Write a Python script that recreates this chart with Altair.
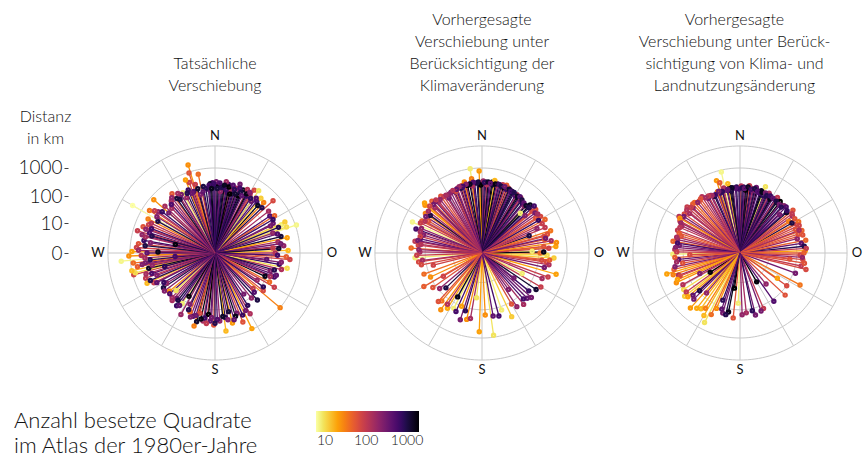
import math
import altair as alt
import pandas as pd

# Each spoke: (bearing in degrees clockwise from north, shift distance in km,
#              number of occupied atlas squares in the 1980s)
ACTUAL = [
    (0, 233, 800), (354, 183, 400), (7, 233, 1200), (11, 297, 600), (16, 183, 900),
    (20, 380, 300), (24, 274, 1500), (346, 132, 250), (341, 198, 500), (333, 155, 180),
    (29, 198, 700), (35, 168, 350), (3, 260, 1800), (5, 150, 200), (358, 300, 450),
    (350, 240, 1000), (13, 200, 140), (18, 250, 160), (22, 150, 2000), (27, 330, 120),
    (337, 260, 700), (344, 330, 90), (9, 350, 160), (1, 330, 300), (356, 280, 1300),
    (31, 250, 110), (39, 220, 600), (42, 180, 1400), (14, 140, 2000),
    (343, 1780, 25), (342, 930, 60), (340, 446, 80), (332, 253, 8), (348, 700, 40),
    (338, 600, 20),
    (32, 412, 70), (35, 485, 9), (44, 297, 30), (48, 570, 70), (56, 215, 500),
    (52, 250, 150), (46, 200, 900), (40, 330, 12), (58, 300, 45),
    (67, 350, 8), (71, 1094, 7), (70, 485, 10), (71, 143, 200), (84, 274, 200),
    (85, 112, 90), (90, 132, 120), (97, 68, 400), (108, 112, 250), (115, 88, 1500),
    (123, 58, 180), (133, 68, 90), (145, 58, 300), (130, 1000, 30), (128, 143, 70),
    (63, 200, 350), (76, 250, 1100), (80, 180, 160), (93, 330, 50), (100, 200, 700),
    (104, 260, 130), (112, 180, 600), (118, 150, 40), (66, 500, 12), (78, 400, 20),
    (88, 380, 15), (95, 450, 80), (102, 400, 10), (120, 260, 90), (138, 170, 1000),
    (154, 930, 20), (166, 350, 22), (181, 350, 60), (160, 183, 300), (167, 132, 1100),
    (176, 253, 200), (184, 253, 400), (190, 274, 150), (195, 322, 1200), (194, 155, 70),
    (206, 102, 250), (213, 132, 8), (220, 125, 300), (230, 125, 25), (236, 155, 1000),
    (238, 102, 200), (150, 300, 130), (158, 420, 60), (171, 200, 900), (187, 320, 100),
    (199, 230, 500), (203, 180, 40), (209, 300, 180), (216, 200, 700), (224, 150, 160),
    (244, 250, 90), (172, 600, 15), (196, 480, 30), (186, 150, 2000), (226, 80, 9),
    (211, 60, 1800),
    (255, 930, 80), (256, 790, 10), (265, 2100, 7), (271, 855, 20), (277, 525, 60),
    (284, 446, 200), (290, 500, 60), (297, 446, 30), (300, 2275, 6), (311, 728, 25),
    (303, 570, 35), (271, 102, 1500), (255, 68, 800), (249, 155, 250), (282, 26, 1700),
    (265, 25, 600), (311, 143, 300), (316, 155, 150), (327, 183, 1000), (250, 400, 100),
    (260, 600, 50), (262, 300, 300), (268, 400, 120), (274, 600, 80), (280, 350, 700),
    (287, 260, 500), (293, 350, 80), (306, 300, 200), (320, 250, 140), (324, 380, 55),
    (246, 420, 15), (258, 1000, 14), (268, 1100, 25), (263, 800, 40), (286, 700, 90),
    (2, 190, 1100), (4, 300, 500), (6, 210, 900), (8, 260, 1400), (10, 180, 700),
    (12, 240, 2000), (15, 300, 450), (17, 220, 800), (19, 160, 1200), (21, 280, 600),
    (23, 210, 1000), (25, 170, 400), (28, 230, 1600), (30, 290, 250), (33, 200, 800),
    (37, 260, 500), (352, 200, 900), (355, 250, 600), (357, 190, 1500), (359, 280, 700),
    (349, 160, 400), (345, 220, 1200), (339, 180, 350), (335, 210, 900), (330, 240, 300),
    (60, 230, 700), (64, 150, 300), (68, 260, 900), (73, 200, 500), (82, 220, 300),
    (86, 180, 1200), (92, 160, 600), (98, 230, 250), (106, 150, 900), (110, 200, 400),
    (113, 130, 150), (125, 120, 800), (135, 90, 500), (141, 110, 200),
    (148, 150, 800), (152, 200, 300), (156, 250, 700), (162, 220, 1500), (164, 280, 400),
    (169, 250, 250), (173, 180, 1300), (178, 220, 500), (180, 300, 900), (183, 190, 300),
    (189, 210, 700), (192, 240, 1600), (197, 200, 350), (201, 260, 250), (205, 160, 900),
    (214, 170, 400), (218, 130, 1000), (222, 180, 150), (228, 140, 500), (233, 170, 250),
    (240, 120, 700),
    (243, 200, 400), (247, 300, 900), (252, 220, 500), (253, 350, 150), (257, 250, 1300),
    (259, 180, 200), (261, 400, 250), (264, 200, 800), (266, 300, 150), (270, 250, 400),
    (272, 500, 180), (276, 300, 1000), (279, 200, 250), (283, 330, 150), (285, 200, 900),
    (289, 380, 200), (291, 250, 600), (295, 300, 120), (299, 200, 1000), (302, 260, 250),
    (305, 400, 90), (308, 230, 700), (313, 260, 150), (318, 200, 500), (322, 300, 200),
    (325, 220, 1100), (328, 300, 150),
]

CLIMATE = [
    (0, 297, 1500), (3, 322, 900), (6, 297, 600), (9, 274, 1200), (12, 322, 400),
    (15, 297, 250), (18, 274, 2000), (21, 253, 700), (24, 274, 300), (27, 233, 1000),
    (30, 215, 500), (33, 215, 1400), (36, 198, 350), (39, 183, 800), (42, 168, 200),
    (357, 322, 1100), (354, 297, 700), (351, 322, 300), (348, 274, 1800), (345, 297, 500),
    (342, 253, 900), (339, 274, 150), (336, 233, 600), (333, 253, 250), (1, 350, 180),
    (4, 260, 120), (8, 330, 2000), (13, 280, 160), (17, 330, 100), (22, 300, 80),
    (26, 260, 1300), (31, 250, 130), (35, 240, 90), (359, 250, 2000), (352, 250, 140),
    (346, 330, 110), (343, 300, 70),
    (352, 1000, 8), (358, 790, 22), (346, 380, 25), (352, 446, 30), (337, 233, 60),
    (10, 400, 15), (20, 350, 50),
    (329, 183, 300), (324, 297, 60), (316, 350, 50), (310, 420, 25), (305, 274, 30),
    (301, 155, 60), (287, 143, 250), (283, 168, 400), (277, 183, 80), (271, 155, 150),
    (266, 233, 8), (294, 485, 7), (311, 485, 20), (320, 230, 130), (326, 250, 90),
    (314, 200, 150), (298, 250, 45), (292, 200, 200), (280, 250, 100), (274, 320, 40),
    (262, 180, 70), (290, 300, 600), (318, 280, 350), (306, 180, 1000),
    (256, 58, 80), (239, 38, 80), (240, 233, 50), (226, 58, 1000), (230, 88, 200),
    (250, 150, 40), (245, 100, 25), (235, 130, 60),
    (193, 253, 25), (187, 38, 9), (196, 132, 800), (207, 155, 8), (216, 297, 25),
    (201, 102, 20), (209, 58, 1500), (212, 200, 18), (198, 300, 300), (220, 160, 35),
    (129, 132, 700), (141, 215, 150), (161, 132, 8), (172, 855, 9), (177, 155, 25),
    (144, 38, 250), (128, 26, 300), (117, 38, 8), (124, 200, 1200), (135, 180, 400),
    (150, 120, 60), (155, 300, 12), (165, 200, 600), (182, 600, 20), (110, 300, 90),
    (85, 412, 20), (106, 525, 20), (58, 274, 70), (51, 274, 60), (44, 88, 8),
    (49, 102, 250), (50, 198, 70), (57, 183, 60), (66, 132, 200), (75, 183, 70),
    (78, 183, 50), (70, 58, 1000), (84, 155, 60), (88, 58, 8), (90, 112, 40),
    (92, 198, 10), (97, 132, 70), (98, 198, 70), (45, 250, 1500), (48, 300, 600),
    (62, 330, 45), (68, 250, 100), (72, 350, 35), (80, 300, 150), (82, 450, 25),
    (94, 350, 12), (100, 250, 130), (89, 150, 1500),
    (2, 310, 800), (5, 330, 1300), (7, 300, 400), (11, 300, 1600), (14, 310, 700),
    (16, 280, 1000), (19, 300, 350), (23, 280, 1200), (25, 250, 600), (28, 260, 900),
    (32, 230, 1300), (34, 250, 500), (37, 220, 1000), (40, 200, 400), (43, 190, 1300),
    (356, 300, 1000), (353, 330, 500), (350, 290, 1400), (347, 310, 250), (344, 280, 600),
    (341, 300, 180), (338, 260, 400), (335, 270, 120), (331, 240, 200), (328, 250, 150),
    (322, 250, 200), (319, 300, 100), (315, 260, 300), (312, 300, 80), (308, 250, 150),
    (303, 230, 300), (299, 200, 120), (296, 260, 90), (289, 200, 150), (285, 180, 80),
    (281, 200, 300), (278, 150, 120), (273, 170, 200), (268, 200, 90), (263, 130, 150),
    (259, 150, 70),
    (46, 200, 900), (53, 220, 300), (55, 250, 150), (60, 200, 700), (64, 230, 90),
    (74, 250, 60), (77, 200, 300), (86, 230, 80), (96, 250, 50), (103, 180, 300),
    (113, 200, 150), (120, 250, 90),
    (132, 220, 300), (138, 150, 600), (147, 180, 200), (170, 180, 400), (190, 220, 150),
    (204, 180, 600), (214, 150, 120), (222, 200, 60),
]

CLIMATE_LANDUSE = [
    (0, 198, 1500), (3, 215, 800), (6, 198, 400), (9, 215, 1200), (12, 183, 300),
    (15, 198, 2000), (18, 168, 600), (24, 183, 900), (27, 198, 200), (30, 168, 1000),
    (33, 183, 500), (36, 155, 1300), (40, 168, 700), (357, 215, 900), (354, 198, 300),
    (351, 215, 1800), (348, 183, 500), (345, 198, 150), (342, 168, 700), (339, 183, 250),
    (336, 155, 1100), (1, 230, 120), (5, 170, 2000), (8, 250, 90), (11, 200, 160),
    (14, 240, 350), (19, 210, 1400), (22, 150, 800), (26, 220, 130), (29, 150, 1500),
    (34, 230, 100), (38, 200, 2000), (43, 190, 220), (359, 180, 600), (352, 160, 1000),
    (346, 230, 130), (340, 200, 90), (333, 190, 200), (21, 320, 9),
    (347, 855, 7), (342, 485, 22), (340, 198, 30), (344, 380, 50), (350, 300, 15),
    (330, 168, 300), (322, 215, 60), (318, 250, 40), (311, 297, 90), (301, 322, 120),
    (305, 250, 70), (295, 183, 150), (290, 220, 100), (286, 143, 60), (282, 180, 200),
    (277, 143, 300), (273, 200, 120), (269, 233, 8), (268, 58, 70), (264, 150, 400),
    (260, 112, 60), (254, 485, 20), (250, 200, 150), (249, 183, 70), (243, 38, 250),
    (237, 233, 10), (232, 300, 12), (227, 88, 1000), (222, 412, 22), (220, 68, 200),
    (215, 250, 15), (212, 200, 30), (207, 570, 9), (203, 132, 25), (200, 58, 800),
    (196, 160, 300), (191, 132, 1500), (189, 17, 2000), (186, 200, 60), (182, 58, 8),
    (237, 17, 1800), (326, 250, 120), (314, 200, 200), (298, 250, 90), (308, 180, 150),
    (280, 250, 45), (256, 250, 50), (245, 300, 25), (228, 170, 400),
    (174, 132, 150), (166, 180, 300), (157, 132, 100), (150, 14, 1800), (140, 26, 200),
    (124, 38, 20), (125, 102, 70), (133, 150, 60), (118, 250, 35), (97, 58, 60),
    (96, 168, 70), (92, 132, 80), (88, 200, 20), (81, 155, 400), (76, 120, 200),
    (72, 143, 60), (67, 132, 60), (63, 170, 80), (57, 112, 30), (51, 253, 60),
    (46, 88, 300), (49, 150, 1300), (45, 200, 500), (55, 180, 150), (60, 130, 1000),
    (70, 210, 45), (84, 190, 900), (102, 160, 100), (110, 120, 300), (145, 120, 500),
    (104, 250, 70),
    (2, 200, 900), (4, 190, 400), (7, 220, 1300), (10, 190, 600), (13, 210, 1000),
    (16, 180, 500), (20, 190, 1500), (23, 200, 300), (25, 170, 900), (28, 190, 700),
    (31, 180, 400), (35, 170, 1000), (39, 160, 300), (42, 150, 800), (356, 200, 500),
    (353, 210, 1300), (349, 190, 400), (344, 180, 800), (341, 200, 300), (337, 170, 600),
    (334, 180, 150), (331, 200, 100),
    (328, 200, 150), (324, 230, 60), (320, 210, 200), (316, 250, 50), (313, 230, 90),
    (309, 260, 120), (303, 230, 300), (300, 280, 25), (297, 220, 180), (293, 200, 110),
    (288, 180, 50), (284, 200, 140), (279, 170, 600), (275, 190, 250), (271, 170, 90),
    (266, 200, 50), (262, 180, 160), (258, 220, 250), (252, 300, 30), (247, 250, 20),
    (241, 200, 120), (234, 220, 100), (230, 250, 20), (225, 200, 300), (218, 300, 18),
    (210, 350, 15), (205, 250, 40),
    (48, 170, 700), (53, 200, 100), (58, 190, 60), (62, 220, 40), (65, 200, 80),
    (69, 170, 150), (74, 200, 60), (79, 230, 45), (86, 220, 100), (90, 180, 50),
    (94, 160, 200), (99, 200, 60),
    (160, 150, 300), (168, 120, 800), (178, 150, 200), (193, 170, 900), (198, 120, 400),
]

PANEL_TITLES = [
    ["Tatsächliche", "Verschiebung"],
    ["Vorhergesagte", "Verschiebung unter", "Berücksichtigung der", "Klimaveränderung"],
    ["Vorhergesagte", "Verschiebung unter Berück-", "sichtigung von Klima- und",
     "Landnutzungsänderung"],
]
DIST_TICKS_KM = [0, 10, 100, 1000]
RING_KM = [10, 100, 1000, 6000]
SPOKE_BEARINGS = list(range(0, 360, 30))
COMPASS = pd.DataFrame({"label": ["N", "O", "S", "W"], "bearing": [0, 90, 180, 270]})
COUNT_TICKS = [10, 100, 1000]
COUNT_DOMAIN = [6, 1950]
LEGEND_TITLE = ["Anzahl besetze Quadrate", "im Atlas der 1980er-Jahre"]
AXIS_TITLE = ["Distanz", "in km"]

FONT = "Lato"
INK = "#111111"
GRID = "#c8c8c8"
PX = 85 / 3          # pixels per decade of (1 + km)
HALF_H = 155         # half height of each polar panel in pixels
COMPASS_R = 117 / PX
TITLE_OFFSET = 4

LOG_KM = "log(1 + datum.km) / LN10"


def panel(rows, title, left, right, title_dx, with_axis):
    xs = alt.Scale(domain=[-left / PX, right / PX], nice=False, zero=False)
    ys = alt.Scale(domain=[-HALF_H / PX, HALF_H / PX], nice=False, zero=False)
    if with_axis:
        yaxis = alt.Axis(
            values=[math.log10(1 + v) for v in DIST_TICKS_KM],
            labelExpr="format(round(pow(10, datum.value) - 1), 'd')",
            domain=False, grid=False, ticks=True, tickSize=4, tickColor="#444",
            tickWidth=1, labelFontSize=19, labelColor=INK, labelPadding=2,
            labelFont=FONT, labelFontWeight=300, title=AXIS_TITLE, titleAngle=0,
            titleFont=FONT, titleFontSize=16, titleFontWeight=300, titleColor=INK,
            titleAlign="center", titleBaseline="top", titleX=-23, titleY=10,
            titleLineHeight=22,
        )
    else:
        yaxis = None

    def X(f):
        return alt.X(f, type="quantitative", scale=xs, axis=None)

    def Y(f):
        return alt.Y(f, type="quantitative", scale=ys, axis=yaxis)

    rings = (
        alt.Chart(pd.DataFrame({"km": RING_KM}))
        .transform_calculate(r=LOG_KM, t="sequence(0, 362, 2)")
        .transform_flatten(["t"])
        .transform_calculate(
            x="datum.r * sin(datum.t * PI / 180)",
            y="datum.r * cos(datum.t * PI / 180)",
        )
        .mark_line(color=GRID, strokeWidth=1)
        .encode(x=X("x"), y=Y("y"), detail="km:N", order="t:Q")
    )

    spokes = (
        alt.Chart(pd.DataFrame({"bearing": SPOKE_BEARINGS, "km": RING_KM[-1]}))
        .transform_calculate(r=LOG_KM)
        .transform_calculate(
            x="datum.r * sin(datum.bearing * PI / 180)",
            y="datum.r * cos(datum.bearing * PI / 180)",
            x0="0", y0="0",
        )
        .mark_rule(color=GRID, strokeWidth=1)
        .encode(x=X("x"), y=Y("y"), x2="x0:Q", y2="y0:Q")
    )

    compass = (
        alt.Chart(COMPASS)
        .transform_calculate(
            x=f"{COMPASS_R} * sin(datum.bearing * PI / 180)",
            y=f"{COMPASS_R} * cos(datum.bearing * PI / 180)",
        )
        .mark_text(font=FONT, fontSize=13, color=INK, baseline="middle", align="center")
        .encode(x=X("x"), y=Y("y"), text="label:N")
    )

    color = alt.Color(
        "count:Q",
        scale=alt.Scale(type="log", domain=COUNT_DOMAIN, scheme="inferno", reverse=True),
        legend=alt.Legend(
            type="gradient", orient="none", legendX=-54, legendY=313,
            direction="horizontal", gradientLength=103, gradientThickness=21,
            gradientStrokeWidth=0, title=LEGEND_TITLE, titleOrient="left",
            titleFont=FONT, titleFontSize=22, titleFontWeight=300, titleColor=INK,
            titleLineHeight=25, titlePadding=57, titleLimit=400, titleAnchor="start",
            titleBaseline="top", labelFont=FONT, labelFontSize=14, labelColor=INK,
            labelFontWeight=300, values=COUNT_TICKS, format="d",
        ),
    )

    spoke_data = (
        alt.Chart(pd.DataFrame(rows, columns=["bearing", "km", "count"]))
        .transform_calculate(r=LOG_KM)
        .transform_calculate(
            x="datum.r * sin(datum.bearing * PI / 180)",
            y="datum.r * cos(datum.bearing * PI / 180)",
            x0="0", y0="0",
        )
    )
    lines = spoke_data.mark_rule(strokeWidth=1.3).encode(
        x=X("x"), y=Y("y"), x2="x0:Q", y2="y0:Q", color=color
    )
    # end dots drawn as thick-stroked small circles so both layers share the stroke legend
    dots = spoke_data.mark_point(
        shape="circle", filled=False, size=5, strokeWidth=3.2, opacity=1
    ).encode(x=X("x"), y=Y("y"), color=color)

    return alt.layer(rings, spokes, compass, lines, dots).properties(
        width=left + right,
        height=2 * HALF_H,
        title=alt.TitleParams(text=title, dx=title_dx, offset=TITLE_OFFSET, frame="group"),
    )


p1 = panel(ACTUAL, PANEL_TITLES[0], 147, 137, 5, True)
p2 = panel(CLIMATE, PANEL_TITLES[1], 130, 130, 0, False)
p3 = panel(CLIMATE_LANDUSE, PANEL_TITLES[2], 128, 127, -5, False)

chart = (
    alt.hconcat(p1, p2, p3, spacing=0)
    .resolve_scale(x="independent", y="independent", color="shared")
    .properties(padding={"left": 14, "top": 12, "right": 0, "bottom": 0})
    .configure_view(stroke=None)
    .configure_title(
        font=FONT, fontSize=16, fontWeight=300, color=INK, lineHeight=22,
        anchor="middle",
    )
)

chart.save("out.html", embed_options={"renderer": "svg", "actions": False})
